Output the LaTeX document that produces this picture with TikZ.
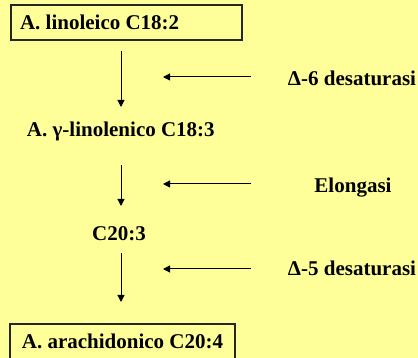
\documentclass[tikz,border=0pt]{standalone}
\usepackage{fontspec}
\setmainfont{Liberation Serif}
\usetikzlibrary{arrows.meta}
\definecolor{bgyellow}{HTML}{FFFF99}
\tikzset{
  x=1pt, y=1pt,
  txt/.style={font=\fontsize{21}{24}\selectfont\bfseries, inner sep=0pt, outer sep=0pt, text height=14pt, text depth=0pt},
  boxnode/.style={txt, draw=black!85, line width=1.5pt, anchor=north west},
  arr/.style={line width=1pt, -{Triangle[length=7pt,width=7pt]}}
}
\begin{document}
\begin{tikzpicture}
\useasboundingbox (0,0) rectangle (418,358);
\fill[bgyellow] (0,0) rectangle (418,358);
% main chain
\node[boxnode, minimum width=231pt, minimum height=35pt] (a1) at (11,353)
  {\makebox[213pt][l]{A. linoleico C18:2}};
\node[txt, anchor=base west] (a2) at (27,221) {A. γ-linolenico C18:3};
\node[txt, anchor=base] (a3) at (119,117) {C20:3};
\node[boxnode, minimum width=225pt, minimum height=36pt] (a4) at (10,34)
  {A. arachidonico C20:4};
\coordinate (axis) at (121,0);
\draw[arr, shorten <=11pt, shorten >=16pt] (a1.south -| axis) -- (a2.north -| axis);
\draw[arr, shorten <=28pt, shorten >=21pt] (a2.south -| axis) -- (a3.north -| axis);
\draw[arr, shorten <=12pt, shorten >=22pt] (a3.south -| axis) -- (a4.north -| axis);
% enzymes
\node[txt, anchor=base] (l1) at (352,272) {Δ-6 desaturasi};
\node[txt, anchor=base] (l2) at (353,165) {Elongasi};
\node[txt, anchor=base] (l3) at (352,82) {Δ-5 desaturasi};
\coordinate (s1) at (251,281); \coordinate (e1) at (163,281);
\coordinate (s2) at (251,174); \coordinate (e2) at (163,174);
\coordinate (s3) at (251,89);  \coordinate (e3) at (163,89);
\draw[arr] (s1) -- (e1);
\draw[arr] (s2) -- (e2);
\draw[arr] (s3) -- (e3);
\end{tikzpicture}
\end{document}
